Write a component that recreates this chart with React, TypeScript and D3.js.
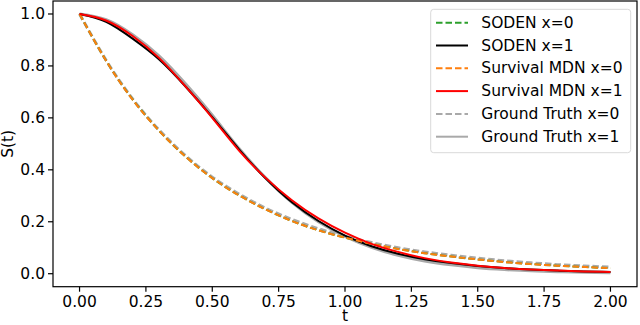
import React from "react";
import * as d3 from "d3";

// time grid (t) and survival values
const tGrid = [0, 0.1, 0.2, 0.3, 0.4, 0.5, 0.6, 0.7, 0.8, 0.9, 1.0, 1.1, 1.2, 1.3, 1.4, 1.5, 1.6, 1.7, 1.8, 1.9, 2.0];

const sodenX0 = [1.0, 0.82, 0.671, 0.55, 0.45, 0.368, 0.302, 0.248, 0.203, 0.167, 0.139, 0.115, 0.095, 0.079, 0.066, 0.055, 0.045, 0.037, 0.031, 0.026, 0.021];
const sodenX1 = [1.0, 0.97, 0.905, 0.825, 0.72, 0.603, 0.48, 0.368, 0.275, 0.203, 0.147, 0.106, 0.077, 0.056, 0.041, 0.03, 0.022, 0.016, 0.012, 0.009, 0.007];
const mdnX0 = [1.0, 0.82, 0.67, 0.55, 0.45, 0.368, 0.302, 0.248, 0.203, 0.167, 0.139, 0.115, 0.095, 0.079, 0.066, 0.055, 0.045, 0.037, 0.031, 0.026, 0.021];
const mdnX1 = [1.0, 0.975, 0.915, 0.83, 0.72, 0.6, 0.475, 0.37, 0.283, 0.213, 0.158, 0.115, 0.084, 0.06, 0.043, 0.031, 0.022, 0.016, 0.012, 0.009, 0.007];
const truthX0 = [1.0, 0.822, 0.673, 0.553, 0.454, 0.372, 0.307, 0.253, 0.209, 0.173, 0.144, 0.12, 0.1, 0.084, 0.071, 0.06, 0.05, 0.042, 0.035, 0.03, 0.025];
const truthX1 = [1.0, 0.978, 0.92, 0.838, 0.73, 0.61, 0.483, 0.37, 0.275, 0.2, 0.144, 0.102, 0.071, 0.049, 0.034, 0.023, 0.016, 0.011, 0.008, 0.006, 0.004];

const xTicks = [0, 0.25, 0.5, 0.75, 1.0, 1.25, 1.5, 1.75, 2.0];
const yTicks = [0, 0.2, 0.4, 0.6, 0.8, 1.0];

const series = [
  { name: "SODEN x=0", values: sodenX0, color: "#2ca02c", dashed: true, width: 2 },
  { name: "SODEN x=1", values: sodenX1, color: "#000000", dashed: false, width: 2 },
  { name: "Survival MDN x=0", values: mdnX0, color: "#ff7f0e", dashed: true, width: 2 },
  { name: "Survival MDN x=1", values: mdnX1, color: "#ff0000", dashed: false, width: 2 },
  { name: "Ground Truth x=0", values: truthX0, color: "#a9a9a9", dashed: true, width: 3 },
  { name: "Ground Truth x=1", values: truthX1, color: "#a9a9a9", dashed: false, width: 3 },
];

const W = 640, H = 325;
const box = { left: 53, right: 637, top: 1, bottom: 286.7 };
const font = "DejaVu Sans, sans-serif";
const fs = 15.5;

export default function App() {
  const x = d3.scaleLinear().domain([-0.1, 2.1]).range([box.left, box.right]);
  const y = d3.scaleLinear().domain([-0.05, 1.05]).range([box.bottom, box.top]);

  const line = d3.line<number>()
    .x((_, i) => x(tGrid[i]))
    .y(d => y(d))
    .curve(d3.curveNatural);

  // ground truth drawn underneath, then the models
  const drawOrder = [series[4], series[5], series[0], series[1], series[2], series[3]];

  const legX = 430.7, legY = 9.3, legW = 200, legH = 143.4;
  const rowH = 22.8, firstRow = 22.7;

  return (
    <svg width={W} height={H} style={{ position: "absolute", left: 0, top: 0, background: "#fff" }} fontFamily={font}>
      <rect x={0} y={0} width={W} height={H} fill="#fff" />
      {drawOrder.map(s => (
        <path key={s.name} d={line(s.values) || ""} fill="none" stroke={s.color}
          strokeWidth={s.width} strokeDasharray={s.dashed ? "6.5,3" : undefined} strokeLinejoin="round" />
      ))}

      {/* axes frame */}
      <rect x={box.left} y={box.top} width={box.right - box.left} height={box.bottom - box.top}
        fill="none" stroke="#000" strokeWidth={1.2} />

      {xTicks.map(t => (
        <g key={"x" + t}>
          <line x1={x(t)} x2={x(t)} y1={box.bottom} y2={box.bottom + 5} stroke="#000" strokeWidth={1.2} />
          <text x={x(t)} y={307.3} textAnchor="middle" fontSize={fs} fill="#000">{d3.format(".2f")(t)}</text>
        </g>
      ))}
      {yTicks.map(v => (
        <g key={"y" + v}>
          <line x1={box.left - 5} x2={box.left} y1={y(v)} y2={y(v)} stroke="#000" strokeWidth={1.2} />
          <text x={45} y={y(v)} textAnchor="end" dominantBaseline="central" fontSize={fs} fill="#000">{d3.format(".1f")(v)}</text>
        </g>
      ))}

      <text x={(box.left + box.right) / 2} y={321} textAnchor="middle" fontSize={fs} fill="#000">t</text>
      <text transform={`translate(13,${(box.top + box.bottom) / 2}) rotate(-90)`} textAnchor="middle" fontSize={fs} fill="#000">S(t)</text>

      {/* legend */}
      <rect x={legX} y={legY} width={legW} height={legH} rx={3} fill="#fff" fillOpacity={0.8} stroke="#d9d9d9" strokeWidth={1} />
      {series.map((s, i) => {
        const cy = firstRow + i * rowH;
        return (
          <g key={"leg" + s.name}>
            <line x1={436} x2={468} y1={cy} y2={cy} stroke={s.color} strokeWidth={2}
              strokeDasharray={s.dashed ? "6.5,3" : undefined} />
            <text x={481.3} y={cy} dominantBaseline="central" fontSize={fs} fill="#000">{s.name}</text>
          </g>
        );
      })}
    </svg>
  );
}
